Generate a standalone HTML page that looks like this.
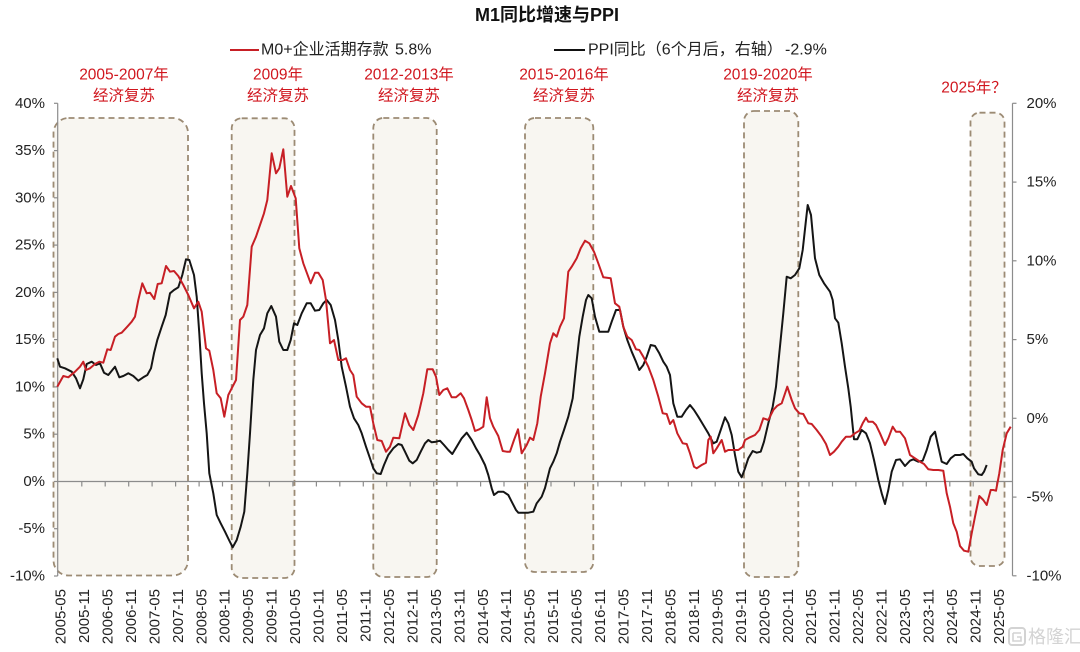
<!DOCTYPE html>
<html>
<head>
<meta charset="utf-8">
<style>
  html, body { margin:0; padding:0; background:#fff; }
  svg { display:block; }
  text { font-family: "Liberation Sans", "Noto Sans CJK SC", sans-serif; }
</style>
</head>
<body>
<svg width="1080" height="652" viewBox="0 0 1080 652" xmlns="http://www.w3.org/2000/svg">
  <rect x="0" y="0" width="1080" height="652" fill="#ffffff"/>

  <!-- Title -->
  <text x="547" y="15" font-size="18" font-weight="bold" fill="#111" text-anchor="middle" dominant-baseline="central">M1同比增速与PPI</text>

  <!-- Legend -->
  <line x1="230" y1="50" x2="259" y2="50" stroke="#c71f25" stroke-width="2"/>
  <text x="261" y="50" font-size="16" fill="#222" dominant-baseline="central">M0+企业活期存款</text>
  <text x="395" y="50" font-size="16" fill="#222" dominant-baseline="central">5.8%</text>
  <line x1="554" y1="50" x2="585" y2="50" stroke="#111" stroke-width="2"/>
  <text x="588" y="50" font-size="16" fill="#222" dominant-baseline="central">PPI同比（6个月后，右轴）</text>
  <text x="785" y="50" font-size="16" fill="#222" dominant-baseline="central">-2.9%</text>

  <!-- Annotations -->
  <g font-size="15.5" fill="#d0161e" text-anchor="middle" dominant-baseline="central">
    <text x="124" y="75">2005-2007年</text>
    <text x="124" y="96">经济复苏</text>
    <text x="278" y="75">2009年</text>
    <text x="278" y="96">经济复苏</text>
    <text x="409" y="75">2012-2013年</text>
    <text x="409" y="96">经济复苏</text>
    <text x="564" y="75">2015-2016年</text>
    <text x="564" y="96">经济复苏</text>
    <text x="768" y="75">2019-2020年</text>
    <text x="768" y="96">经济复苏</text>
    <text x="974" y="88">2025年？</text>
  </g>

  <!-- Shaded boxes -->
  <g fill="#f8f6f1" stroke="#9c8b74" stroke-width="1.8" stroke-dasharray="6 4">
    <rect x="53.5" y="118" width="134.5" height="457.5" rx="15" ry="15"/>
    <rect x="231.7" y="118.3" width="62.8" height="459.7" rx="10" ry="10"/>
    <rect x="373.3" y="118" width="63.4" height="459" rx="10" ry="10"/>
    <rect x="525" y="118" width="68.3" height="454" rx="10" ry="10"/>
    <rect x="744" y="111" width="54.3" height="466" rx="10" ry="10"/>
    <rect x="970.5" y="112.7" width="34" height="453.3" rx="9" ry="9"/>
  </g>

  <!-- Axes -->
  <g stroke="#8c8c8c" stroke-width="1.2" fill="none">
    <line x1="57.7" y1="103.3" x2="57.7" y2="576"/>
    <line x1="54" y1="103.3" x2="57.7" y2="103.3"/>
    <line x1="54" y1="150.6" x2="57.7" y2="150.6"/>
    <line x1="54" y1="197.8" x2="57.7" y2="197.8"/>
    <line x1="54" y1="245.1" x2="57.7" y2="245.1"/>
    <line x1="54" y1="292.4" x2="57.7" y2="292.4"/>
    <line x1="54" y1="339.6" x2="57.7" y2="339.6"/>
    <line x1="54" y1="386.9" x2="57.7" y2="386.9"/>
    <line x1="54" y1="434.2" x2="57.7" y2="434.2"/>
    <line x1="54" y1="481.5" x2="57.7" y2="481.5"/>
    <line x1="54" y1="528.7" x2="57.7" y2="528.7"/>
    <line x1="54" y1="576" x2="57.7" y2="576"/>

    <line x1="1012.5" y1="103.3" x2="1012.5" y2="575.8"/>
    <line x1="1012.5" y1="103.3" x2="1016.5" y2="103.3"/>
    <line x1="1012.5" y1="182.1" x2="1016.5" y2="182.1"/>
    <line x1="1012.5" y1="260.8" x2="1016.5" y2="260.8"/>
    <line x1="1012.5" y1="339.6" x2="1016.5" y2="339.6"/>
    <line x1="1012.5" y1="418.3" x2="1016.5" y2="418.3"/>
    <line x1="1012.5" y1="497.1" x2="1016.5" y2="497.1"/>
    <line x1="1012.5" y1="575.8" x2="1016.5" y2="575.8"/>

    <line x1="57.7" y1="481.5" x2="1012.5" y2="481.5"/>
    <path d="M81.8 481.5v5 M105.2 481.5v5 M128.7 481.5v5 M152.1 481.5v5 M175.6 481.5v5 M199.1 481.5v5 M222.5 481.5v5 M246 481.5v5 M269.4 481.5v5 M292.9 481.5v5 M316.4 481.5v5 M339.8 481.5v5 M363.3 481.5v5 M386.7 481.5v5 M410.2 481.5v5 M433.7 481.5v5 M457.1 481.5v5 M480.6 481.5v5 M504 481.5v5 M527.5 481.5v5 M551 481.5v5 M574.4 481.5v5 M597.9 481.5v5 M621.3 481.5v5 M644.8 481.5v5 M668.3 481.5v5 M691.7 481.5v5 M715.2 481.5v5 M738.6 481.5v5 M762.1 481.5v5 M785.6 481.5v5 M809 481.5v5 M832.5 481.5v5 M855.9 481.5v5 M879.4 481.5v5 M902.9 481.5v5 M926.3 481.5v5 M949.8 481.5v5 M973.2 481.5v5 M996.7 481.5v5"/>
  </g>

  <!-- Left axis labels -->
  <g font-size="15" fill="#222" text-anchor="end" dominant-baseline="central">
    <text x="45" y="103.3">40%</text>
    <text x="45" y="150.6">35%</text>
    <text x="45" y="197.8">30%</text>
    <text x="45" y="245.1">25%</text>
    <text x="45" y="292.4">20%</text>
    <text x="45" y="339.6">15%</text>
    <text x="45" y="386.9">10%</text>
    <text x="45" y="434.2">5%</text>
    <text x="45" y="481.5">0%</text>
    <text x="45" y="528.7">-5%</text>
    <text x="45" y="576">-10%</text>
  </g>

  <!-- Right axis labels -->
  <g font-size="15" fill="#222" text-anchor="start" dominant-baseline="central">
    <text x="1026.5" y="103.3">20%</text>
    <text x="1026.5" y="182.1">15%</text>
    <text x="1026.5" y="260.8">10%</text>
    <text x="1026.5" y="339.6">5%</text>
    <text x="1026.5" y="418.3">0%</text>
    <text x="1026.5" y="497.1">-5%</text>
    <text x="1026.5" y="575.8">-10%</text>
  </g>

  <!-- X axis labels (rotated) -->
  <g font-size="15" fill="#222" text-anchor="end" dominant-baseline="central">
    <text transform="translate(61,589) rotate(-90)">2005-05</text>
    <text transform="translate(84.5,589) rotate(-90)">2005-11</text>
    <text transform="translate(107.9,589) rotate(-90)">2006-05</text>
    <text transform="translate(131.4,589) rotate(-90)">2006-11</text>
    <text transform="translate(154.8,589) rotate(-90)">2007-05</text>
    <text transform="translate(178.3,589) rotate(-90)">2007-11</text>
    <text transform="translate(201.8,589) rotate(-90)">2008-05</text>
    <text transform="translate(225.2,589) rotate(-90)">2008-11</text>
    <text transform="translate(248.7,589) rotate(-90)">2009-05</text>
    <text transform="translate(272.1,589) rotate(-90)">2009-11</text>
    <text transform="translate(295.6,589) rotate(-90)">2010-05</text>
    <text transform="translate(319.1,589) rotate(-90)">2010-11</text>
    <text transform="translate(342.5,589) rotate(-90)">2011-05</text>
    <text transform="translate(366,589) rotate(-90)">2011-11</text>
    <text transform="translate(389.4,589) rotate(-90)">2012-05</text>
    <text transform="translate(412.9,589) rotate(-90)">2012-11</text>
    <text transform="translate(436.4,589) rotate(-90)">2013-05</text>
    <text transform="translate(459.8,589) rotate(-90)">2013-11</text>
    <text transform="translate(483.3,589) rotate(-90)">2014-05</text>
    <text transform="translate(506.7,589) rotate(-90)">2014-11</text>
    <text transform="translate(530.2,589) rotate(-90)">2015-05</text>
    <text transform="translate(553.7,589) rotate(-90)">2015-11</text>
    <text transform="translate(577.1,589) rotate(-90)">2016-05</text>
    <text transform="translate(600.6,589) rotate(-90)">2016-11</text>
    <text transform="translate(624,589) rotate(-90)">2017-05</text>
    <text transform="translate(647.5,589) rotate(-90)">2017-11</text>
    <text transform="translate(671,589) rotate(-90)">2018-05</text>
    <text transform="translate(694.4,589) rotate(-90)">2018-11</text>
    <text transform="translate(717.9,589) rotate(-90)">2019-05</text>
    <text transform="translate(741.3,589) rotate(-90)">2019-11</text>
    <text transform="translate(764.8,589) rotate(-90)">2020-05</text>
    <text transform="translate(788.3,589) rotate(-90)">2020-11</text>
    <text transform="translate(811.7,589) rotate(-90)">2021-05</text>
    <text transform="translate(835.2,589) rotate(-90)">2021-11</text>
    <text transform="translate(858.6,589) rotate(-90)">2022-05</text>
    <text transform="translate(882.1,589) rotate(-90)">2022-11</text>
    <text transform="translate(905.6,589) rotate(-90)">2023-05</text>
    <text transform="translate(929,589) rotate(-90)">2023-11</text>
    <text transform="translate(952.5,589) rotate(-90)">2024-05</text>
    <text transform="translate(975.9,589) rotate(-90)">2024-11</text>
    <text transform="translate(999.4,589) rotate(-90)">2025-05</text>
  </g>

  <!-- Black series: PPI -->
  <polyline fill="none" stroke="#151515" stroke-width="2" stroke-linejoin="round" points="57.3,358.3 60,366.7 65,368.3 71.7,371.7 76,378.3 80,388.3 83.3,379.3 86.7,364 91.7,361.7 96,365 100,363.3 104,372.7 108.3,375 115,366.7 119.3,377.3 123.3,376 128.3,373.3 133.3,376 138.3,380.7 143.3,377.3 147.3,375 151,368.3 154,353.3 157.3,340 161.7,326.7 165.7,315 170,293.3 174,290 178.3,287.3 182.3,275 186,259.3 189.3,260 194,275 196.7,296.7 199.3,333.3 201.7,373.3 204,403.3 206.7,433.3 209.3,473.3 213.3,493.3 216.7,515 220.7,523.3 225,531.7 229,540 232.7,547.3 236.7,540 240.7,526.7 244.3,511.7 247.3,473.3 250,433.3 253.3,380 256,350 260,335 264,328.3 267.3,313.3 271.3,306 276,316.7 279.3,341.7 283.3,350 287.3,350 290.7,340 294,323.3 297.3,325 301.7,313.3 306.7,303.3 310.7,303.3 315,310.7 319.3,310 323.3,303.3 326.7,300 330.7,305 335,320 338.3,340 341.7,366.7 346,386.7 350,406.7 354,418.3 358.3,425 361.7,433.3 366,446.7 370,458.3 373.3,468.3 376.7,473.3 380.7,474 384,465 388.3,455 393.3,448.3 398.3,444 401.7,445 405,451.7 409.3,460.7 412.7,463.3 416.7,460 420.7,451.7 425,443.3 428.3,440 431.7,442.3 436,441.7 440,440.7 444,445 448.3,450 452.3,454 456.7,446.7 461.7,438.3 466.7,432.7 471.7,440 476,448.3 480,455 485,465 488.3,475 491.7,488.3 494,495 498.3,491.7 503.3,491.7 508.3,495 511.7,501.7 516,510 518.3,512.7 528.3,512.7 533.3,511.7 536.7,503.3 541.7,496.7 545,488 550,468.3 553.3,461.7 556.7,453.3 560,441.7 564,430 568.3,416.7 572.7,398.3 576,366.7 579.3,336.7 582.7,316.7 586,300 588.3,295 591.7,298.3 595,316.7 599.3,331.7 608.3,331.7 611.7,321.7 616,310 620,310 623.3,326.7 627.3,340 631.7,351.7 636,361.7 639.3,370 643.3,365 646.7,356.7 650.7,345 655,346 659.3,353.3 663.3,361.7 666.7,366.7 670,375 673.3,403.3 677.3,416.7 681.7,416.7 686,410 690,405 694,410 698.3,416.7 703.3,425 708.3,433.3 713.3,443.3 716.7,441.7 720.7,430 725,417.3 728.3,423.3 731.7,435 735,455 738.3,471.7 741.7,477.3 745,468.3 748.3,458.3 752.7,451 756.7,452.7 760.7,451.7 764,441.7 768.3,423.3 772.7,406.7 776,386.7 779.3,353.3 783.3,313.3 786.7,276.7 790.7,278.3 795,275 799.3,268.3 802.7,250 806,220 807.7,205 811,215 813.3,240 815,258.3 819.3,275 824,283.3 830,291.7 832.7,300 835,318.3 838.3,322.7 841.7,343.3 845,366.7 848.3,388.3 850.7,406.7 854,439.3 857.3,439.3 861.7,430 866,433.3 870,443.3 874,460 878.3,480 881.7,493.3 885,504 888.3,490 891.7,471.7 896,460 900,459.3 905,466 910,460.7 913.3,459.3 918.3,461.7 922.7,460.7 926.7,450 930.7,436.7 935,431.7 938.3,446.7 941.7,461.7 946.7,464 950.7,458.3 955,455 960,455 963.3,454 967.3,458.3 971.7,461.7 974,468.3 978.3,474.3 981.7,475 984,471.7 986.7,465"/>

  <!-- Red series: M0 + corporate demand deposits -->
  <polyline fill="none" stroke="#c71f25" stroke-width="2" stroke-linejoin="round" points="57.3,386.7 63.3,376 68.3,377.3 75,371.7 80,366.7 83.3,361.7 86,370 90,368.3 95,364 99.3,361.7 103.3,362.7 107.3,349.3 110.7,350 115,336.7 118.3,334 121.7,332.7 126.7,327.3 131.7,321.7 135,316.7 138.3,300 142.3,283.3 146.7,293.3 150,292.7 154.3,299 157.7,284 161.7,283.3 166,266 170,271.7 174,271 178.3,276 183.3,285 188.3,295 194,308.3 198.3,301.7 201.7,311.7 206,348.3 209.3,350.7 213.3,370 216.7,393.3 220.7,398.3 224.3,416.7 228.3,395 231.7,388.3 236,380 240,320 243.3,316.7 247.3,305 251.7,246.7 256,236.7 260,225 264,213.3 267.3,200 271.7,153.3 276,173.3 279.3,168.3 283.3,149.3 287.3,196.7 291,186 295.7,198.3 299.3,248.3 303.3,263.3 310.7,283.3 315,272.7 318.3,272.7 322.7,280 326,300 330,343.3 334,340 338.3,360 342.7,360 346,358.3 350,370 353.3,375 356.7,396.7 361.7,403.3 366,406.7 370,406.7 373.3,423.3 377.3,440 381.7,441 386,451.7 390,446.7 393.3,437.7 399.3,438.3 405,413.3 409.3,425 413.3,430 418.3,415 423.3,393.3 427.3,369.3 432.7,369.3 436,376.7 439.3,395 443.3,390 447.3,388.3 451.7,397.3 456,397.3 460.7,393.3 464,398.3 468.3,410 471.7,420 475,431 479.3,429.3 483.3,426.7 486.7,397.3 490,418.3 493.3,426.7 498.3,436 502.7,451 506.7,451.7 510,451.7 514,440 518,429.3 521.7,453.3 526.7,445 530,437.7 533.3,440 537.3,423.3 540.7,396.7 545,373.3 550,343.3 553.3,333.3 556.7,336.7 560,326.7 564,318.3 568.3,271.7 571.7,266.7 576.7,258.3 580.7,248.3 585,240.7 589.3,243.3 594,251.7 598.3,263.3 603.3,277.3 610.7,278.3 615,303.3 619.3,306.7 623.3,326.7 627.3,336.7 631.7,340 636,349.3 639.3,350 643.3,356.7 648.3,366.7 653.3,380 658.3,396.7 662.7,413.3 666.7,414 670,424 673.3,420 677.3,433.3 682.7,443.3 686.7,444 690,453.3 694,466.7 696.7,468.3 701.7,465 706,462.7 708.3,440 710.7,436.7 713.3,453.3 716.7,448.3 721.7,440 725,451.7 728.3,450 738.3,450 742.7,446.7 745,440 750,437.3 755,435 759.3,430 763.3,418.3 768.3,420 773.3,410 777.3,405.7 781.7,403.3 787.3,386.7 791.7,400 795,408.3 799.3,413.3 803.3,414 808.3,423.3 811.7,424 816.7,430 821.7,436.7 826,444 830,455 834,451.7 838.3,446.7 841.7,441.7 846,436.7 850.7,436.7 855,433.3 859.3,430.7 862.7,423.3 866,417.7 868.3,421.7 872.7,421.7 876,425 880,433.3 885,445 888.3,438.3 892.7,426.7 896,431.7 900,431.7 905,438.3 910,455 915,458.3 920,461.7 924,464 928.3,469.3 933.3,470 938.3,470 943.3,470.7 946.7,493.3 950,506.7 953.3,523.3 956.7,531.7 960,546 964,550.7 968.3,551.7 971.7,533.3 975,516.7 979.3,496 983.3,500 986.7,505 990.7,490 993.3,490 996,490.7 999.3,473.3 1002.7,450 1006.7,433.3 1010.7,426.7"/>

  <!-- Watermark -->
  <g opacity="0.55">
    <rect x="1009" y="628" width="16" height="17" rx="3" ry="3" fill="none" stroke="#b0b0b0" stroke-width="2"/>
    <path d="M1013 633 h8 M1013 633 v8 h8 v-4 h-4" fill="none" stroke="#b0b0b0" stroke-width="1.6"/>
    <text x="1028" y="637" font-size="18" fill="#b0b0b0" dominant-baseline="central">格隆汇</text>
  </g>
</svg>
</body>
</html>
